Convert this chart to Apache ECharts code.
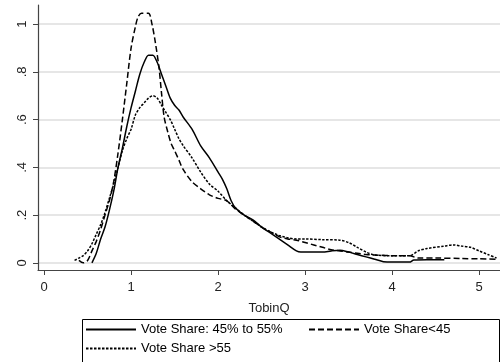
<!DOCTYPE html>
<html>
<head>
<meta charset="utf-8">
<script src="https://cdn.jsdelivr.net/npm/echarts@6/dist/echarts.min.js"></script>
<style>html,body{margin:0;padding:0;background:#fff}#c{width:500px;height:362px}</style>
</head>
<body>
<div id="c"></div>
<script>
var seriesNames = ['Vote Share: 45% to 55%', 'Vote Share<45', 'Vote Share >55'];
var xTicks = [0, 1, 2, 3, 4, 5];
var yTicks = [0, 0.2, 0.4, 0.6, 0.8, 1];

var midX = [0.55,0.6,0.65,0.7,0.75,0.8,0.85,0.9,0.95,1.0,1.05,1.1,1.15,1.2,1.25,1.3,1.35,1.4,1.45,1.5,1.55,1.6,1.7,1.8,1.9,2.0,2.05,2.1,2.15,2.2,2.3,2.4,2.5,2.6,2.7,2.8,2.9,2.95,3.1,3.2,3.3,3.4,3.5,3.6,3.7,3.8,3.9,4.0,4.2,4.25,4.4,4.6];
var midY = [0.0,0.04,0.1,0.15,0.22,0.3,0.4,0.48,0.57,0.65,0.72,0.79,0.84,0.87,0.87,0.84,0.79,0.74,0.69,0.66,0.64,0.61,0.56,0.49,0.44,0.38,0.35,0.31,0.26,0.23,0.2,0.18,0.15,0.125,0.1,0.075,0.05,0.045,0.045,0.045,0.05,0.053,0.045,0.035,0.025,0.015,0.005,0.003,0.003,0.012,0.013,0.013];

var lowX = [0.4,0.45,0.5,0.55,0.6,0.65,0.7,0.75,0.8,0.85,0.9,0.95,1.0,1.05,1.08,1.12,1.2,1.24,1.28,1.32,1.35,1.38,1.42,1.46,1.5,1.55,1.6,1.7,1.8,1.9,2.0,2.1,2.2,2.3,2.4,2.5,2.6,2.7,2.8,2.9,3.0,3.1,3.2,3.3,3.4,3.5,3.6,3.7,3.8,4.0,4.2,4.3,4.5,4.8,5.0,5.2];
var lowY = [0.01,0.0,0.01,0.05,0.09,0.14,0.2,0.26,0.34,0.46,0.6,0.75,0.9,0.99,1.03,1.045,1.045,1.0,0.92,0.82,0.71,0.61,0.55,0.5,0.47,0.43,0.39,0.34,0.31,0.285,0.27,0.26,0.225,0.2,0.175,0.15,0.13,0.11,0.1,0.095,0.085,0.075,0.065,0.055,0.05,0.045,0.04,0.035,0.033,0.03,0.03,0.02,0.02,0.018,0.017,0.015];

var highX = [0.35,0.4,0.45,0.5,0.55,0.6,0.65,0.7,0.75,0.8,0.85,0.9,0.95,1.0,1.05,1.1,1.15,1.2,1.25,1.3,1.35,1.4,1.45,1.5,1.55,1.6,1.7,1.8,1.9,2.0,2.1,2.2,2.3,2.4,2.5,2.6,2.7,2.8,2.9,3.0,3.2,3.4,3.5,3.6,3.7,3.8,4.0,4.2,4.3,4.4,4.6,4.7,4.8,4.9,5.0,5.1,5.2];
var highY = [0.01,0.02,0.03,0.05,0.08,0.12,0.16,0.21,0.27,0.33,0.4,0.47,0.52,0.56,0.62,0.65,0.67,0.69,0.7,0.69,0.66,0.63,0.6,0.56,0.52,0.49,0.44,0.38,0.33,0.3,0.26,0.23,0.2,0.175,0.15,0.13,0.115,0.105,0.1,0.1,0.097,0.095,0.085,0.065,0.045,0.033,0.03,0.03,0.05,0.06,0.07,0.075,0.07,0.065,0.05,0.035,0.02];

function pairs(xs, ys) { return xs.map(function (x, i) { return [x, ys[i]]; }); }

var font = 'Liberation Sans, Arial, sans-serif';
var chart = echarts.init(document.getElementById('c'), null, {renderer: 'canvas'});
function lineSeries(name, xs, ys, type) {
  return {
    name: name, type: 'line', data: pairs(xs, ys), showSymbol: false, symbol: 'none',
    smooth: 0.3, animation: false,
    itemStyle: {color: '#000'},
    lineStyle: {color: '#000', width: 1.5, type: type}
  };
}
function legendAt(name, left, top) {
  return {data: [name], left: left, top: top, itemWidth: 50, itemHeight: 14, itemGap: 0,
    itemStyle: {opacity: 0},
    textStyle: {fontFamily: font, fontSize: 13, color: '#000'}};
}
chart.setOption({
  animation: false,
  backgroundColor: '#fff',
  grid: {left: 38, right: 0, top: 5, bottom: 92, containLabel: false},
  xAxis: {
    type: 'value', min: -0.07, max: 5.24,
    name: 'TobinQ', nameLocation: 'middle', nameGap: 32,
    nameTextStyle: {fontFamily: font, fontSize: 13, color: '#222'},
    axisLine: {show: true, onZero: false, lineStyle: {color: '#444', width: 1.2}},
    axisTick: {show: true, customValues: xTicks, length: 5, lineStyle: {color: '#444'}},
    axisLabel: {customValues: xTicks, margin: 11, fontFamily: font, fontSize: 13, color: '#222'},
    splitLine: {show: false}
  },
  yAxis: {
    type: 'value', min: -0.03, max: 1.08,
    axisLine: {show: true, onZero: false, lineStyle: {color: '#444', width: 1.2}},
    axisTick: {show: true, customValues: yTicks, length: 5, lineStyle: {color: '#444'}},
    axisLabel: {customValues: yTicks, rotate: 90, margin: 9, fontFamily: font, fontSize: 13, color: '#222',
      formatter: function (v) { if (v === 0) return '0'; if (v === 1) return '1'; return String(Math.round(v * 10) / 10).replace(/^0/, ''); }},
    splitLine: {show: true, lineStyle: {color: '#e6e6e6', width: 2}}
  },
  legend: [
    legendAt(seriesNames[0], 80, 318),
    legendAt(seriesNames[1], 303, 318),
    legendAt(seriesNames[2], 80, 337)
  ],
  graphic: [{type: 'rect', left: 80, top: 317, shape: {width: 417, height: 44},
    style: {fill: 'none', stroke: '#000', lineWidth: 1}, silent: true}],
  series: [
    lineSeries(seriesNames[0], midX, midY, 'solid'),
    lineSeries(seriesNames[1], lowX, lowY, [6, 3]),
    lineSeries(seriesNames[2], highX, highY, [2.5, 1.5])
  ]
});
</script>
</body>
</html>
